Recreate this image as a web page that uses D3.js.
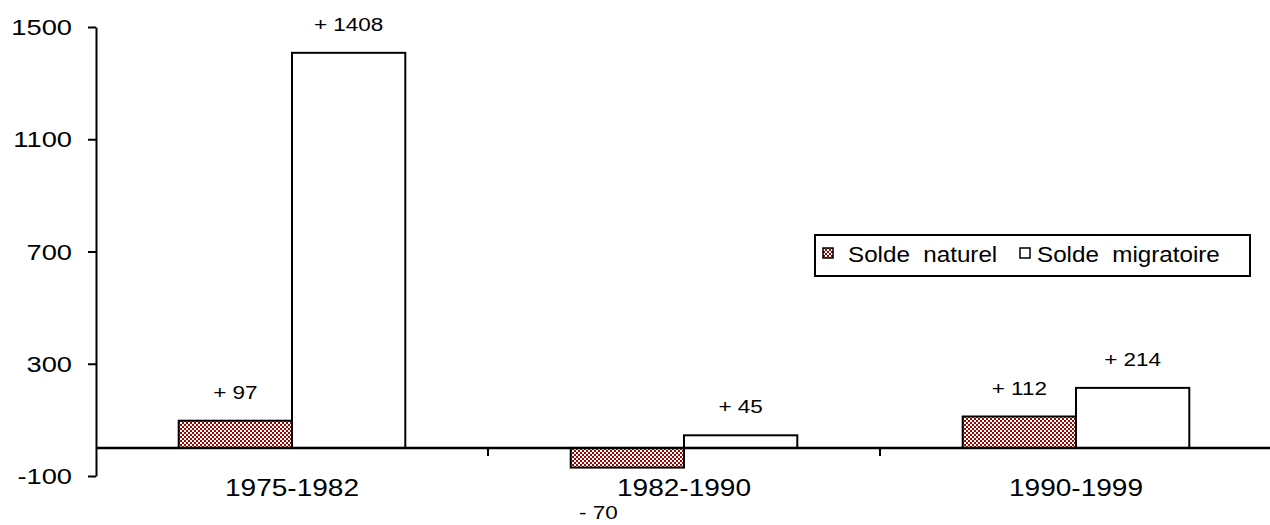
<!DOCTYPE html>
<html>
<head>
<meta charset="utf-8">
<script src="https://cdn.jsdelivr.net/npm/d3@7"></script>
<style>
  body { margin: 0; background: #fff; }
  text { font-family: "Liberation Sans", Arial, sans-serif; fill: #000; white-space: pre; }
</style>
</head>
<body>
<div id="chart"></div>
<script>
  // periods on the x axis
  const periods = ["1975-1982", "1982-1990", "1990-1999"];
  // the two series
  const seriesNames = ["Solde naturel", "Solde migratoire"];
  const soldeNaturel = [97, -70, 112];
  const soldeMigratoire = [1408, 45, 214];
  // y tick labels
  const yTicks = [-100, 300, 700, 1100, 1500];

  const width = 1270, height = 525;

  const svg = d3.select("#chart").append("svg")
    .attr("width", width)
    .attr("height", height);

  // checkerboard fill for the first series
  const defs = svg.append("defs");
  const pat = defs.append("pattern")
    .attr("id", "checker")
    .attr("width", 4).attr("height", 4)
    .attr("patternUnits", "userSpaceOnUse");
  pat.append("rect").attr("width", 4).attr("height", 4).attr("fill", "#fff");
  pat.append("rect").attr("width", 2).attr("height", 2).attr("fill", "#990800")
    .attr("shape-rendering", "crispEdges");
  pat.append("rect").attr("x", 2).attr("y", 2).attr("width", 2).attr("height", 2).attr("fill", "#990800")
    .attr("shape-rendering", "crispEdges");

  const fills = ["url(#checker)", "#fff"];

  //scales
  const y = d3.scaleLinear().domain([-100, 1500]).range([476, 27]);
  const x0 = d3.scaleBand().domain(periods).range([96, 1272]).padding(0);
  const x1 = d3.scaleBand().domain(seriesNames)
    .range([0, x0.bandwidth()])
    .paddingInner(0)
    .paddingOuter(0.73);

  // text is a bit wider than the default font, stretch horizontally
  function stretched(g, xPos, yPos, txt, size, sx, anchor) {
    return g.append("text")
      .attr("transform", `translate(${xPos},${yPos}) scale(${sx},1)`)
      .attr("text-anchor", anchor)
      .attr("font-size", size)
      .text(txt);
  }

  // bars
  const rows = periods.map((p, i) => ({
    period: p,
    values: [
      { key: seriesNames[0], value: soldeNaturel[i] },
      { key: seriesNames[1], value: soldeMigratoire[i] }
    ]
  }));

  const groups = svg.selectAll(".period")
    .data(rows)
    .enter()
    .append("g")
    .attr("class", "period")
    .attr("transform", d => `translate(${x0(d.period)},0)`);

  groups.selectAll("rect")
    .data(d => d.values)
    .enter()
    .append("rect")
    .attr("x", d => x1(d.key))
    .attr("y", d => y(Math.max(0, d.value)))
    .attr("width", x1.bandwidth())
    .attr("height", d => Math.abs(y(d.value) - y(0)))
    .attr("fill", (d, i) => fills[i])
    .attr("stroke", "#000")
    .attr("stroke-width", 2);

  // value labels
  groups.each(function(d) {
    const g = d3.select(this);
    d.values.forEach(v => {
      const cx = x1(v.key) + x1.bandwidth() / 2;
      const label = (v.value >= 0 ? "+ " : "- ") + Math.abs(v.value);
      if (v.value >= 0) {
        stretched(g, cx, y(v.value) - 22, label, 18, 1.25, "middle");
      } else {
        stretched(g, cx - 29, y(v.value) + 51, label, 18, 1.25, "middle");
      }
    });
  });

  // zero line
  svg.append("line")
    .attr("x1", 96).attr("x2", 1270)
    .attr("y1", y(0)).attr("y2", y(0))
    .attr("stroke", "#000")
    .attr("stroke-width", 2.5);

  // y axis
  const yAxis = svg.append("g")
    .attr("transform", "translate(96,0)")
    .call(d3.axisLeft(y).tickValues(yTicks).tickSize(8).tickSizeOuter(0).tickFormat(""));
  yAxis.select(".domain").attr("stroke-width", 2);
  yAxis.selectAll(".tick line").attr("stroke-width", 2);
  yTicks.forEach(t => {
    stretched(svg, 72, y(t) + 8, String(t), 22, 1.24, "end");
  });

  // category ticks and labels
  const catTicks = periods.slice(1).map(p => x0(p));
  svg.selectAll(".catTick")
    .data(catTicks)
    .enter()
    .append("line")
    .attr("class", "catTick")
    .attr("x1", d => d).attr("x2", d => d)
    .attr("y1", y(0)).attr("y2", y(0) + 8)
    .attr("stroke", "#000")
    .attr("stroke-width", 2);

  periods.forEach(p => {
    stretched(svg, x0(p) + x0.bandwidth() / 2, 496, p, 23, 1.22, "middle");
  });

  // legend
  const legend = svg.append("g").attr("transform", "translate(815,235)");
  legend.append("rect")
    .attr("width", 435).attr("height", 41)
    .attr("fill", "#fff")
    .attr("stroke", "#000")
    .attr("stroke-width", 2);

  const legendItems = [
    { name: "Solde  naturel", fill: fills[0], sx: 8, tx: 33 },
    { name: "Solde  migratoire", fill: fills[1], sx: 205, tx: 222 }
  ];
  legendItems.forEach(item => {
    legend.append("rect")
      .attr("x", item.sx).attr("y", 13)
      .attr("width", 10).attr("height", 10)
      .attr("fill", item.fill)
      .attr("stroke", "#000")
      .attr("stroke-width", 1.5);
    stretched(legend, item.tx, 27, item.name, 22, 1.1, "start");
  });
</script>
</body>
</html>
